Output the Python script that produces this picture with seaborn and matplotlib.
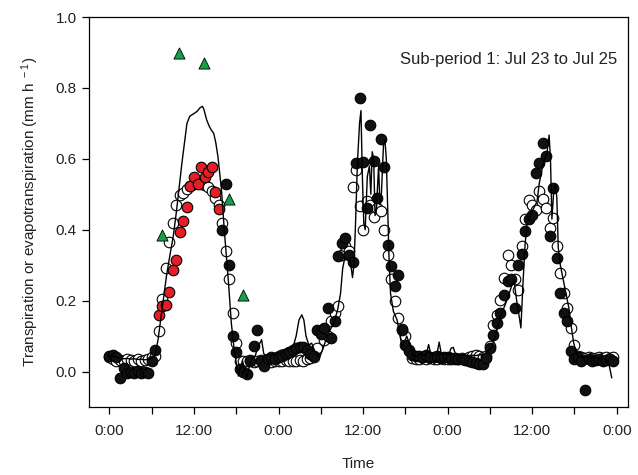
import numpy as np
import pandas as pd
import matplotlib
matplotlib.use("Agg")
import matplotlib.pyplot as plt
import seaborn as sns

nan = np.nan

# Half-hourly sampling times (hours since 0:00 of Jul 23)
sample_hours = np.arange(0, 72, 0.5)

# Sap-flow transpiration, filled circles (day 1 daytime shown separately in red)
transp_filled = [
    0.045, 0.048, 0.040, -0.017, 0.010, -0.003, 0.000, -0.004,
    0.002, -0.004, 0.000, -0.004, 0.029, 0.062, nan, nan,
    nan, nan, nan, nan, nan, nan, nan, nan,
    nan, nan, nan, nan, nan, nan, nan, nan,
    0.400, 0.529, 0.300, 0.100, 0.056, 0.006, 0.000, -0.008,
    0.030, 0.073, 0.118, 0.029, 0.015, 0.035, 0.040, 0.035,
    0.042, 0.045, 0.050, 0.055, 0.060, 0.065, 0.070, 0.068,
    0.062, 0.050, 0.045, 0.118, 0.105, 0.123, 0.179, 0.095,
    0.142, 0.325, 0.363, 0.377, 0.330, 0.310, 0.588, 0.771,
    0.590, 0.461, 0.696, 0.594, 0.489, 0.655, 0.578, 0.358,
    0.299, 0.240, 0.273, 0.118, 0.076, 0.057, 0.048, 0.045,
    0.045, 0.040, 0.048, 0.042, 0.040, 0.045, 0.038, 0.042,
    0.040, 0.036, 0.038, 0.035, 0.036, 0.032, 0.030, 0.028,
    0.025, 0.020, 0.022, 0.039, 0.067, 0.104, 0.137, 0.165,
    0.217, 0.254, 0.260, 0.179, 0.300, 0.332, 0.395, 0.430,
    0.442, 0.561, 0.588, 0.644, 0.607, 0.381, 0.517, 0.320,
    0.222, 0.165, 0.142, 0.057, 0.034, 0.040, 0.030, -0.051,
    0.035, 0.030, 0.032, 0.035, 0.030, 0.033, 0.035, 0.030,
]

# Second transpiration estimate, open circles
transp_open = [
    0.040, 0.035, 0.030, 0.033, 0.030, 0.035, 0.032, 0.030,
    0.035, 0.030, 0.033, 0.035, 0.040, 0.045, 0.114, 0.205,
    0.292, 0.365, 0.420, 0.470, 0.497, 0.503, 0.515, 0.522,
    0.530, 0.535, 0.530, 0.527, 0.520, 0.510, 0.490, 0.470,
    0.420, 0.340, 0.260, 0.165, 0.080, 0.030, 0.029, 0.030,
    0.032, 0.028, 0.030, 0.033, 0.030, 0.032, 0.028, 0.030,
    0.031, 0.030, 0.032, 0.029, 0.030, 0.031, 0.033, 0.030,
    0.035, 0.038, 0.040, 0.067, 0.109, 0.090, 0.100, 0.142,
    0.165, 0.184, 0.330, 0.353, 0.339, 0.520, 0.569, 0.466,
    0.400, 0.480, 0.470, 0.437, 0.460, 0.452, 0.400, 0.330,
    0.261, 0.200, 0.151, 0.120, 0.100, 0.060, 0.039, 0.035,
    0.036, 0.038, 0.035, 0.037, 0.036, 0.035, 0.038, 0.036,
    0.035, 0.037, 0.036, 0.035, 0.038, 0.036, 0.040, 0.045,
    0.048, 0.045, 0.042, 0.045, 0.071, 0.130, 0.160, 0.203,
    0.264, 0.330, 0.300, 0.260, 0.231, 0.355, 0.430, 0.485,
    0.470, 0.456, 0.510, 0.486, 0.460, 0.405, 0.433, 0.353,
    0.278, 0.222, 0.179, 0.123, 0.076, 0.045, 0.040, 0.038,
    0.040, 0.039, 0.038, 0.040, 0.039, 0.040, 0.038, 0.040,
]

# Day-1 daytime transpiration, red circles
red_hours = [7.0, 7.5, 8.0, 8.5, 9.0, 9.5, 10.0, 10.5, 11.0,
             11.5, 12.0, 12.5, 13.0, 13.5, 14.0, 14.5, 15.0, 15.5]
red_values = [0.159, 0.184, 0.189, 0.225, 0.285, 0.315, 0.394, 0.426, 0.463,
              0.522, 0.550, 0.530, 0.577, 0.550, 0.564, 0.578, 0.506, 0.458]

# Independent evapotranspiration estimates, green triangles
tri_hours = [7.4, 9.9, 13.45, 17.0, 18.9]
tri_values = [0.386, 0.898, 0.870, 0.487, 0.215]

# Continuous evapotranspiration record, black line
et_hours = [
    0.0, 0.5, 1.0, 1.5, 2.0, 2.5, 3.0, 3.5, 4.0, 4.5, 5.0, 5.5, 6.0, 6.5,
    6.9, 7.5, 8.1, 8.6, 9.05, 9.5, 9.9, 10.3, 10.7, 11.0, 11.4, 12.1, 12.5,
    12.8, 13.2, 13.4, 13.8, 14.2, 14.5, 14.8, 15.1, 15.4, 15.9, 16.3, 16.9,
    17.3, 17.7, 18.0, 18.3, 18.6, 18.9, 19.2, 19.5, 19.8, 20.2, 20.7, 21.1,
    21.6, 21.9, 22.3, 22.8, 23.3, 23.8, 24.3, 24.8, 25.3, 25.8, 26.1, 26.5,
    26.9, 27.3, 27.6, 27.9, 28.3, 28.7, 29.1, 29.5, 29.9, 30.4, 30.9, 31.4,
    31.9, 32.4, 32.8, 33.1, 33.4, 33.8, 34.2, 34.5, 34.7, 34.9, 35.2, 35.5,
    35.7, 35.9, 36.1, 36.3, 36.6, 36.9, 37.1, 37.3, 37.5, 37.7, 37.9, 38.2,
    38.4, 38.6, 38.9, 39.1, 39.3, 39.5, 39.7, 39.9, 40.3, 40.8, 41.2, 41.5,
    41.8, 42.2, 42.7, 43.2, 43.6, 44.0, 44.5, 45.0, 45.3, 45.6, 46.0, 46.5,
    46.8, 47.1, 47.6, 48.2, 48.5, 48.8, 49.1, 49.6, 50.2, 50.8, 51.4, 52.0,
    52.6, 53.1, 53.6, 54.3, 54.9, 55.5, 56.2, 56.9, 57.4, 57.8, 58.2, 58.4,
    58.7, 59.0, 59.3, 59.7, 60.2, 60.7, 61.0, 61.4, 61.8, 62.1, 62.4, 62.6,
    62.8, 63.1, 63.3, 63.5, 63.7, 64.0, 64.4, 64.8, 65.2, 65.6, 65.9, 66.3,
    66.6, 67.0, 67.5, 68.0, 68.5, 69.0, 69.5, 70.0, 70.5, 70.9, 71.3,
]
et_values = [
    0.045, 0.042, 0.040, 0.038, 0.036, 0.037, 0.035, 0.036, 0.034, 0.035,
    0.033, 0.034, 0.038, 0.045,
    0.090, 0.180, 0.270, 0.330, 0.380, 0.450, 0.520, 0.590, 0.654, 0.700,
    0.720, 0.729, 0.735, 0.743, 0.748, 0.740, 0.710, 0.690, 0.680, 0.672,
    0.645, 0.606, 0.513, 0.400, 0.250, 0.137, 0.062, 0.025, -0.013, 0.010,
    0.030, 0.000, -0.018, 0.010, 0.035, 0.045, 0.070, 0.090, 0.050, 0.045,
    0.048, 0.050, 0.055, 0.060, 0.062, 0.065, 0.068, 0.072, 0.100, 0.145,
    0.160, 0.145, 0.100, 0.075, 0.080, 0.060, 0.045, 0.043, 0.070, 0.100,
    0.120, 0.140, 0.175, 0.220, 0.290, 0.320, 0.315, 0.310, 0.265, 0.300,
    0.400, 0.590, 0.700, 0.736, 0.550, 0.420, 0.400, 0.550, 0.580, 0.500,
    0.620, 0.600, 0.440, 0.460, 0.580, 0.470, 0.500, 0.640, 0.653, 0.600,
    0.450, 0.310, 0.220, 0.170, 0.147, 0.110, 0.070, 0.080, 0.100, 0.070,
    0.045, 0.043, 0.050, 0.045, 0.050, 0.076, 0.050, 0.045, 0.050, 0.083,
    0.050, 0.048, 0.050, 0.066, 0.068, 0.050, 0.045, 0.047, 0.045, 0.046,
    0.045, 0.047, 0.048, 0.055, 0.070, 0.110, 0.156, 0.190, 0.230, 0.260,
    0.200, 0.150, 0.123, 0.250, 0.360, 0.420, 0.440, 0.460, 0.480, 0.530,
    0.570, 0.600, 0.616, 0.667, 0.600, 0.430, 0.520, 0.530, 0.490, 0.350,
    0.300, 0.260, 0.220, 0.180, 0.120, 0.080, 0.050, 0.043, 0.040, 0.042,
    0.040, 0.038, 0.040, 0.037, 0.038, 0.035, 0.020, -0.018,
]

x_tick_hours = [0, 12, 24, 36, 48, 60, 72]
x_tick_labels = ["0:00", "12:00", "0:00", "12:00", "0:00", "12:00", "0:00"]
y_ticks = [0.0, 0.2, 0.4, 0.6, 0.8, 1.0]

sns.set_style("white")
plt.rcParams["font.family"] = ["Liberation Sans", "DejaVu Sans"]
plt.rcParams["mathtext.fontset"] = "custom"
plt.rcParams["mathtext.rm"] = "Liberation Sans"
plt.rcParams["mathtext.default"] = "regular"

fig = plt.figure(figsize=(6.38, 4.75), dpi=100)
ax = fig.add_axes([0.1395, 0.1432, 0.8448, 0.821])

marker_area = 58
open_df = pd.DataFrame({"t": sample_hours, "v": transp_open})
filled_df = pd.DataFrame({"t": sample_hours, "v": transp_filled}).dropna()

sns.scatterplot(data=open_df, x="t", y="v", color="white", edgecolor="black",
                linewidth=0.8, s=marker_area, ax=ax, zorder=2)
sns.scatterplot(data=filled_df, x="t", y="v", color="#111111", edgecolor="black",
                linewidth=0.8, s=marker_area, ax=ax, zorder=3)
sns.scatterplot(x=red_hours, y=red_values, color="#e41e26", edgecolor="black",
                linewidth=0.8, s=marker_area, ax=ax, zorder=4)
sns.lineplot(x=et_hours, y=et_values, color="black", linewidth=1.0,
             sort=False, estimator=None, ax=ax, zorder=5)
sns.scatterplot(x=tri_hours, y=tri_values, marker="^", color="#14a048",
                edgecolor="black", linewidth=0.6, s=64, ax=ax, zorder=6)

ax.set_xlim(-2.9, 73.6)
ax.set_ylim(-0.1, 1.0)
ax.set_xticks(x_tick_hours)
ax.set_xticklabels(x_tick_labels)
ax.set_xticks([6, 18, 30, 42, 54, 66], minor=True)
ax.set_yticks(y_ticks)
ax.set_yticklabels([f"{v:.1f}" for v in y_ticks])

for side in ["top", "right", "bottom", "left"]:
    ax.spines[side].set_visible(True)
    ax.spines[side].set_color("black")
    ax.spines[side].set_linewidth(0.9)

ax.tick_params(axis="both", which="both", direction="out", length=5,
               width=0.9, color="black", labelsize=11, labelcolor="#222222",
               bottom=True, left=True, top=False, right=False)
ax.tick_params(axis="x", which="major", pad=7)
ax.tick_params(axis="y", which="major", pad=4)

ax.set_xlabel("Time", fontsize=11, color="#222222", labelpad=14)
ax.set_ylabel("Transpiration or evapotranspiration (mm h$^{\\ -1}$)",
              fontsize=11, color="#222222", labelpad=10)

ax.text(0.98, 0.89, "Sub-period 1: Jul 23 to Jul 25", transform=ax.transAxes,
        ha="right", va="center", fontsize=12, color="#222222")

fig.savefig("out.png", dpi=100)
